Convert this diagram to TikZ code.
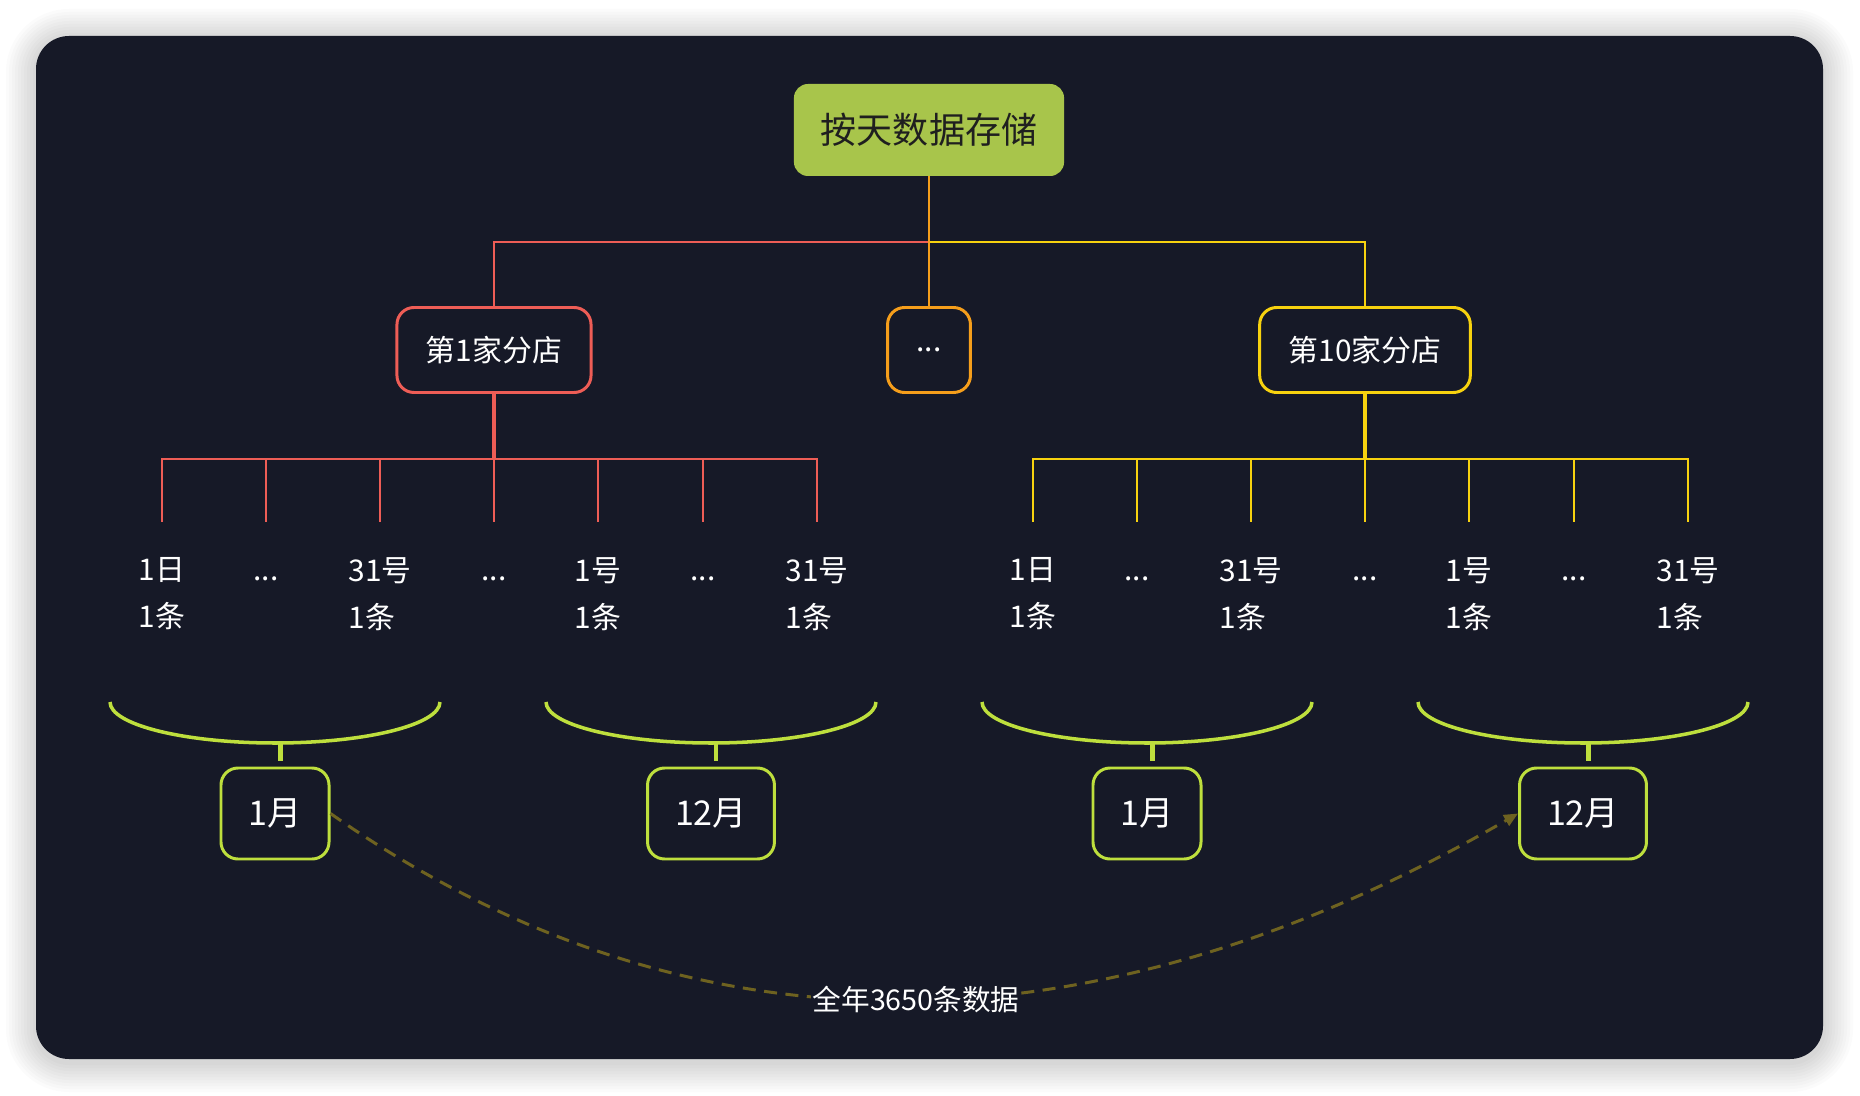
\documentclass[tikz,border=0pt]{standalone}
\usepackage{fontspec}
\setmainfont{Noto Sans CJK SC}
\usetikzlibrary{calc,arrows.meta}
\definecolor{cardbg}{HTML}{161927}
\definecolor{rootfill}{HTML}{A8C54B}
\definecolor{redline}{HTML}{EE5D56}
\definecolor{orangeline}{HTML}{F59E1B}
\definecolor{yellowline}{HTML}{F7D20F}
\definecolor{limeline}{HTML}{BEDF3D}
\definecolor{dashgold}{HTML}{6E6220}

\begin{document}
\begin{tikzpicture}[every node/.style={font=\fontsize{17}{26.7}\selectfont,text=white},
  rootbox/.style={fill=rootfill,rounded corners=0.28cm,inner xsep=0.54cm,minimum height=1.84cm,text=black!88,font=\fontsize{20.5}{24}\selectfont},
  shopbox/.style={draw,line width=1.7pt,fill=cardbg,rounded corners=0.34cm,inner xsep=0.58cm,minimum height=1.7cm},
  monthbox/.style={draw=limeline,line width=1.7pt,rounded corners=0.34cm,inner xsep=0.55cm,minimum height=1.82cm,font=\fontsize{19.4}{24}\selectfont},
  leaf/.style={align=left,inner sep=0pt,anchor=north},
  treeline/.style={line width=1.42pt},
  brace/.style={limeline,line width=2pt}]
  \fill[white] (0,0) rectangle (37.2,-21.92);
  \foreach \i in {1,...,10}
    \fill[black,opacity=0.014,rounded corners=0.66cm+\i*0.06cm] ({0.72-\i*0.06},{-0.78+\i*0.06}) rectangle ({36.46+\i*0.06},{-21.24-\i*0.06});
  \fill[cardbg,rounded corners=0.66cm] (0.72,-0.72) rectangle (36.46,-21.18);

  \node[rootbox] (root) at (18.58,-2.6) {按天数据存储};
  \node[shopbox,draw=redline] (shop1) at (9.88,-7) {第1家分店};
  \node[shopbox,draw=orangeline] (shopmid) at (18.58,-7) {...};
  \node[shopbox,draw=yellowline] (shop10) at (27.3,-7) {第10家分店};
  \coordinate (rootfork) at (18.58,-4.84);
  \draw[treeline,redline] (rootfork) -| (shop1);
  \draw[treeline,yellowline] (rootfork) -| (shop10);
  \draw[treeline,orangeline] (root) -- (shopmid);

  \foreach \s/\c in {shop1/redline,shop10/yellowline} {
    \coordinate (\s-fork) at ($(\s)+(0,-2.18)$);
    \draw[\c,line width=2pt] (\s.south) -- (\s-fork);
    \foreach \k/\dx/\day in {a/-6.64/1日,c/-2.28/31号,e/2.08/1号,g/6.46/31号} {
      \coordinate (\s-\k-tip) at ($(\s-fork)+(\dx,-1.26)$);
      \draw[treeline,\c] (\s-fork) -| (\s-\k-tip);
      \node[leaf] (\s-\k) at ($(\s-fork)+(\dx,-1.96)$) {\day\\1条};
    }
    \foreach \k/\dx in {b/-4.56,d/0,f/4.18} {
      \coordinate (\s-\k-tip) at ($(\s-fork)+(\dx,-1.26)$);
      \draw[treeline,\c] (\s-fork) -| (\s-\k-tip);
      \node[anchor=base] (\s-\k) at ($(\s-fork)+(\dx,-2.44)$) {...};
    }
  }

  \foreach \k/\bx/\mx/\txt in {1/5.61/5.5/1月,2/14.32/14.22/12月,3/23.05/22.94/1月,4/31.77/31.66/12月} {
    \node[monthbox] (m\k) at (\mx,-16.27) {\txt};
    \coordinate (b\k) at (\bx,-14.86);
    \draw[brace] ($(\mx,-14.86)+(-3.3,0.82)$) arc[start angle=180,end angle=360,x radius=3.3,y radius=0.82];
    \draw[brace,line width=2.6pt] (b\k) -- ($(b\k |- m\k.north)+(0,0.12)$);
  }

  \draw[dashgold,line width=1.7pt,dash pattern=on 0.26cm off 0.17cm,-{Triangle[length=0.28cm,width=0.24cm]}]
    (m1.east) to[out=-35,in=210] node[pos=0.5,fill=cardbg,inner sep=1pt,font=\fontsize{16.3}{20}\selectfont] (total) {全年3650条数据} (m4.west);
\end{tikzpicture}
\end{document}
